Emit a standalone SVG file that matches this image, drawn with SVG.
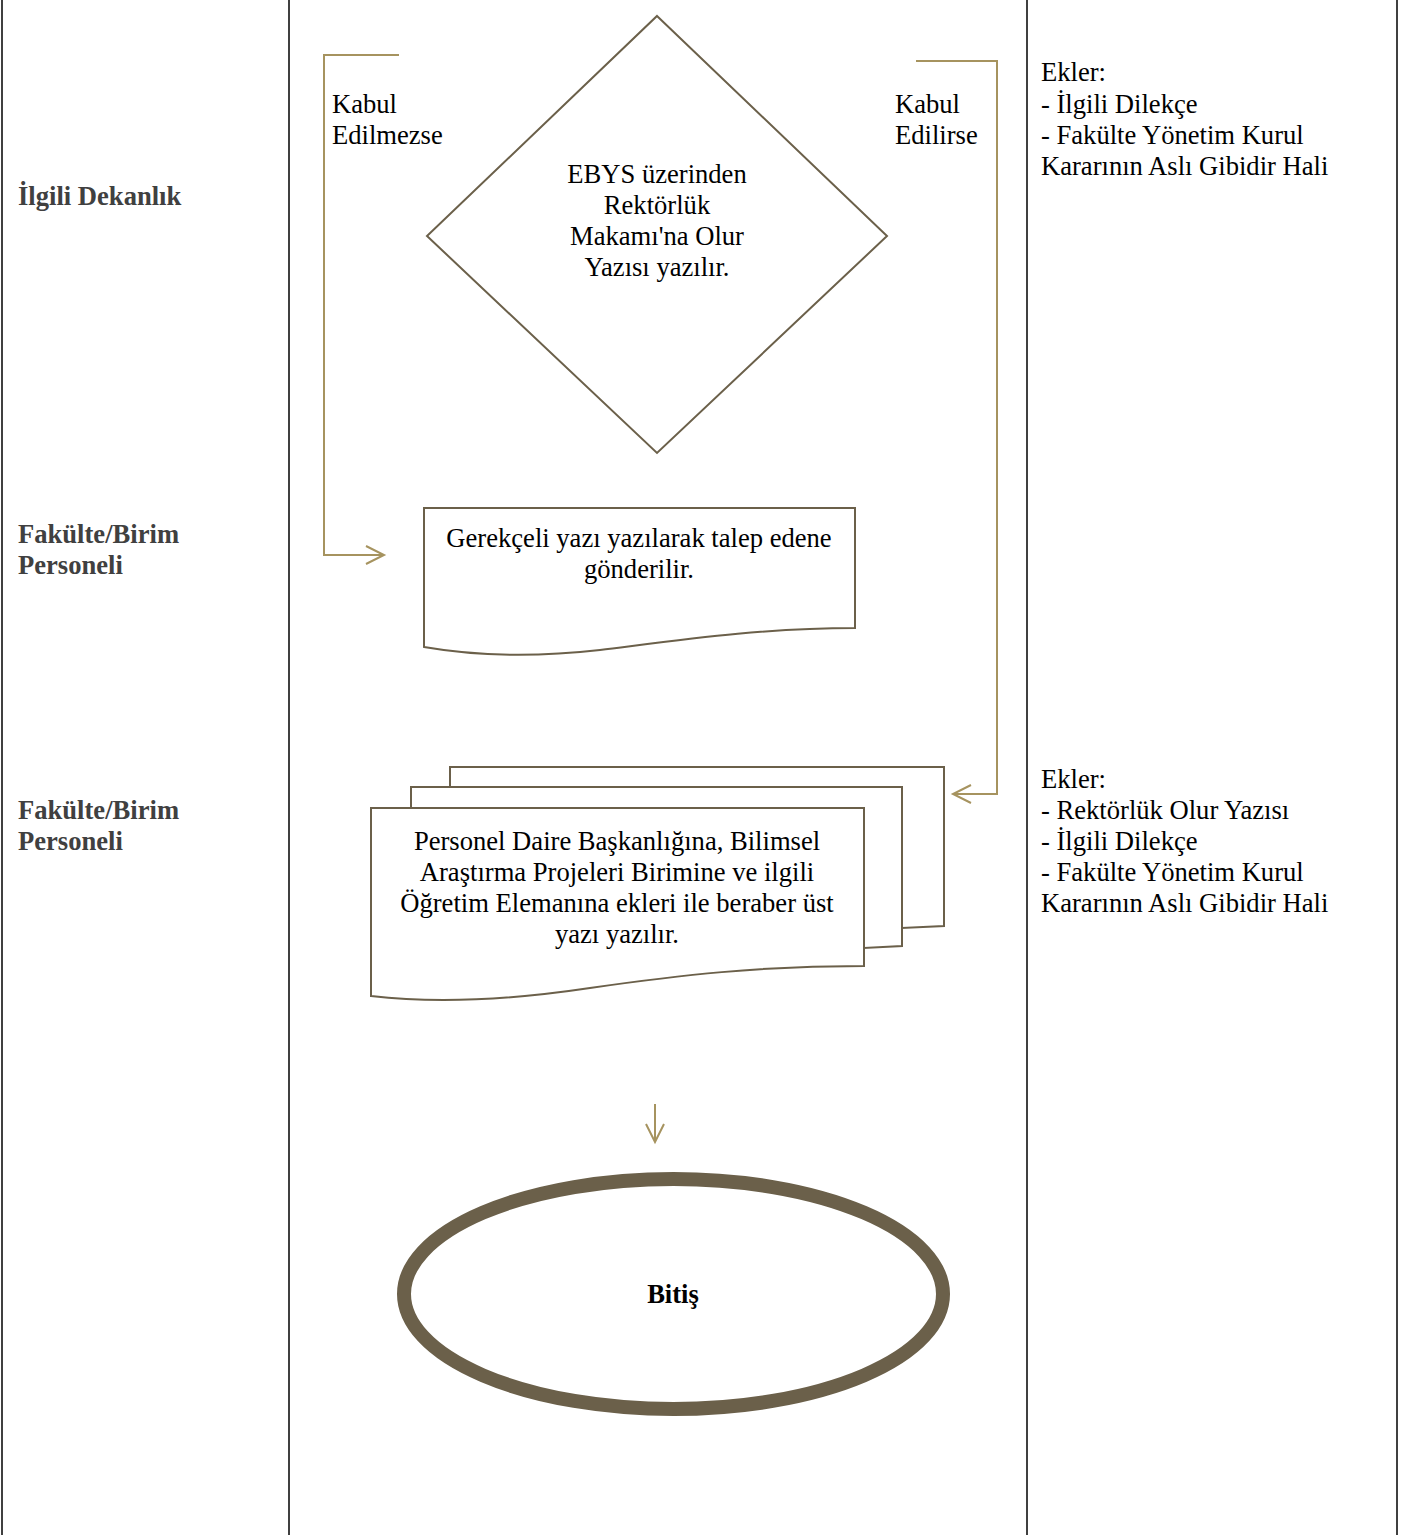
<svg xmlns="http://www.w3.org/2000/svg" width="1416" height="1535" viewBox="0 0 1416 1535">
<style>
text{font-family:'Liberation Serif','Times New Roman',serif;font-size:26.6px;fill:#000}
.lane{font-weight:bold;fill:#404040}
.c{text-anchor:middle}
.grid{stroke:#404040;stroke-width:2;fill:none}
.shape{stroke:#6b604a;stroke-width:2;fill:#fff}
.conn{stroke:#a6935f;stroke-width:2;fill:none}
</style>
<rect width="1416" height="1535" fill="#fff"/>
<g id="grid">
<line class="grid" x1="2" y1="0" x2="2" y2="1535"/>
<line class="grid" x1="289" y1="0" x2="289" y2="1535"/>
<line class="grid" x1="1027" y1="0" x2="1027" y2="1535"/>
<line class="grid" x1="1397" y1="0" x2="1397" y2="1535"/>
</g>
<g id="lanes">
<text class="lane" x="18" y="205">İlgili Dekanlık</text>
<text class="lane" x="18" y="543">Fakülte/Birim</text>
<text class="lane" x="18" y="574">Personeli</text>
<text class="lane" x="18" y="819">Fakülte/Birim</text>
<text class="lane" x="18" y="850">Personeli</text>
</g>
<g id="connectors">
<polyline class="conn" points="399,55 324,55 324,555 384,555"/>
<polyline class="conn" points="366,546 384,555 366,564"/>
<polyline class="conn" points="916,61 997,61 997,794 953,794"/>
<polyline class="conn" points="971,785 953,794 971,803"/>
<line class="conn" x1="655" y1="1104" x2="655" y2="1142"/>
<polyline class="conn" points="646,1124 655,1142 664,1124"/>
<text x="332" y="113">Kabul</text>
<text x="332" y="144">Edilmezse</text>
<text x="895" y="113">Kabul</text>
<text x="895" y="144">Edilirse</text>
</g>
<g id="decision">
<polygon class="shape" points="657,16 887,236 657,453 427,236"/>
<text class="c" x="657" y="183">EBYS üzerinden</text>
<text class="c" x="657" y="214">Rektörlük</text>
<text class="c" x="657" y="245">Makamı'na Olur</text>
<text class="c" x="657" y="276">Yazısı yazılır.</text>
</g>
<g id="notes1">
<text x="1041" y="81">Ekler:</text>
<text x="1041" y="113">- İlgili Dilekçe</text>
<text x="1041" y="144">- Fakülte Yönetim Kurul</text>
<text x="1041" y="175">Kararının Aslı Gibidir Hali</text>
</g>
<g id="reject-doc">
<path class="shape" d="M424,508 L855,508 L855,628 C760,628 680,640 600,650 C530,658 470,655 424,647 Z"/>
<text class="c" x="639" y="547">Gerekçeli yazı yazılarak talep edene</text>
<text class="c" x="639" y="578">gönderilir.</text>
</g>
<g id="multi-doc">
<path class="shape" d="M450,767 L944,767 L944,926 L902,928 L902,787 L450,787 Z"/>
<path class="shape" d="M411,787 L902,787 L902,946 L864,948 L864,808 L411,808 Z"/>
<path class="shape" d="M371,808 L864,808 L864,966 C760,966 680,975 590,988 C510,1000 440,1004 371,996 Z"/>
<text class="c" x="617" y="850">Personel Daire Başkanlığına, Bilimsel</text>
<text class="c" x="617" y="881">Araştırma Projeleri Birimine ve ilgili</text>
<text class="c" x="617" y="912">Öğretim Elemanına ekleri ile beraber üst</text>
<text class="c" x="617" y="943">yazı yazılır.</text>
</g>
<g id="notes2">
<text x="1041" y="788">Ekler:</text>
<text x="1041" y="819">- Rektörlük Olur Yazısı</text>
<text x="1041" y="850">- İlgili Dilekçe</text>
<text x="1041" y="881">- Fakülte Yönetim Kurul</text>
<text x="1041" y="912">Kararının Aslı Gibidir Hali</text>
</g>
<g id="end">
<ellipse cx="673.5" cy="1294" rx="269.5" ry="115" fill="#fff" stroke="#6b604a" stroke-width="14"/>
<text class="c" x="673" y="1303" font-weight="bold">Bitiş</text>
</g>
</svg>
